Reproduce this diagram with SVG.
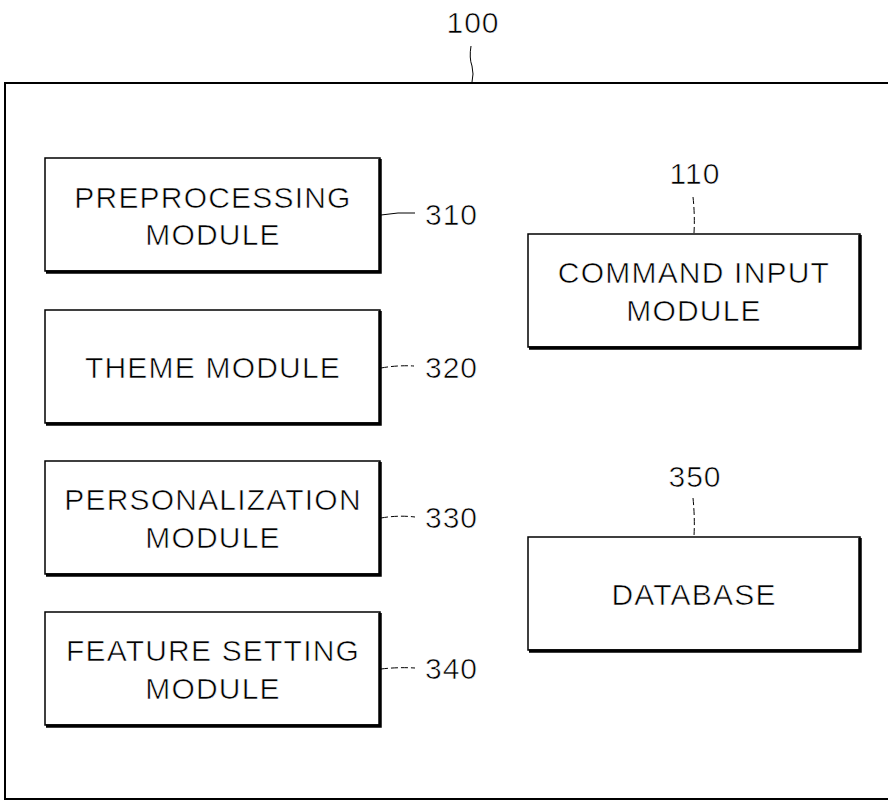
<svg xmlns="http://www.w3.org/2000/svg" width="888" height="800" viewBox="0 0 888 800">
<style>
.bg{fill:#fff}
.frame{fill:none;stroke:#000;stroke-width:2}
.box{fill:#fff;stroke:#000;stroke-width:1.5}
.sh{fill:none;stroke:#000;stroke-width:3.5}
.lbl{font-family:"Liberation Sans",Arial,sans-serif;font-size:30px;letter-spacing:1.2px;fill:#000;stroke:#fff;stroke-width:0.6;text-anchor:middle}
.num{font-family:"Liberation Sans",Arial,sans-serif;font-size:30px;letter-spacing:1px;fill:#000;stroke:#fff;stroke-width:0.6}
.lead{fill:none;stroke:#000;stroke-width:1;stroke-dasharray:7 3}
</style>
<rect class="bg" x="0" y="0" width="888" height="800"/>
<g id="n100">
<path class="frame" d="M892,83 H5 V799 H892"/>
<text class="num" x="473" y="33" text-anchor="middle">100</text>
</g>
<g id="n310">
<rect class="box" x="45" y="158" width="335" height="113"/>
<path class="sh" d="M380,159 V272 H46"/>
<text class="lbl" x="213" y="208">PREPROCESSING</text>
<text class="lbl" x="213" y="245">MODULE</text>
<text class="num" x="425" y="225">310</text>
</g>
<g id="n320">
<rect class="box" x="45" y="310" width="335" height="113"/>
<path class="sh" d="M380,311 V424 H46"/>
<text class="lbl" x="213" y="378">THEME MODULE</text>
<text class="num" x="425" y="378">320</text>
</g>
<g id="n330">
<rect class="box" x="45" y="461" width="335" height="113"/>
<path class="sh" d="M380,462 V575 H46"/>
<text class="lbl" x="213" y="510">PERSONALIZATION</text>
<text class="lbl" x="213" y="548">MODULE</text>
<text class="num" x="425" y="528">330</text>
</g>
<g id="n340">
<rect class="box" x="45" y="612" width="335" height="113"/>
<path class="sh" d="M380,613 V726 H46"/>
<text class="lbl" x="213" y="661">FEATURE SETTING</text>
<text class="lbl" x="213" y="699">MODULE</text>
<text class="num" x="425" y="679">340</text>
</g>
<g id="n110">
<rect class="box" x="528" y="234" width="332" height="113"/>
<path class="sh" d="M860,235 V348 H529"/>
<text class="lbl" x="694" y="283">COMMAND INPUT</text>
<text class="lbl" x="694" y="321">MODULE</text>
<text class="num" x="695" y="184" text-anchor="middle">110</text>
</g>
<g id="n350">
<rect class="box" x="528" y="537" width="332" height="113"/>
<path class="sh" d="M860,538 V651 H529"/>
<text class="lbl" x="694" y="605">DATABASE</text>
<text class="num" x="695" y="487" text-anchor="middle">350</text>
</g>
<g id="connectors">
<path d="M471,46 Q469,58 472,66 Q474,74 472,82" fill="none" stroke="#000" stroke-width="1"/>
<path d="M381,215 Q398,212 415,213" fill="none" stroke="#000" stroke-width="1"/>
<path class="lead" d="M381,368 Q398,365 414,366"/>
<path class="lead" d="M381,518 Q398,515 415,517"/>
<path class="lead" d="M381,669 Q398,667 415,668"/>
<path class="lead" d="M693,197 Q695,215 694,233"/>
<path class="lead" d="M693,498 Q695,518 694,536"/>
</g>
</svg>
